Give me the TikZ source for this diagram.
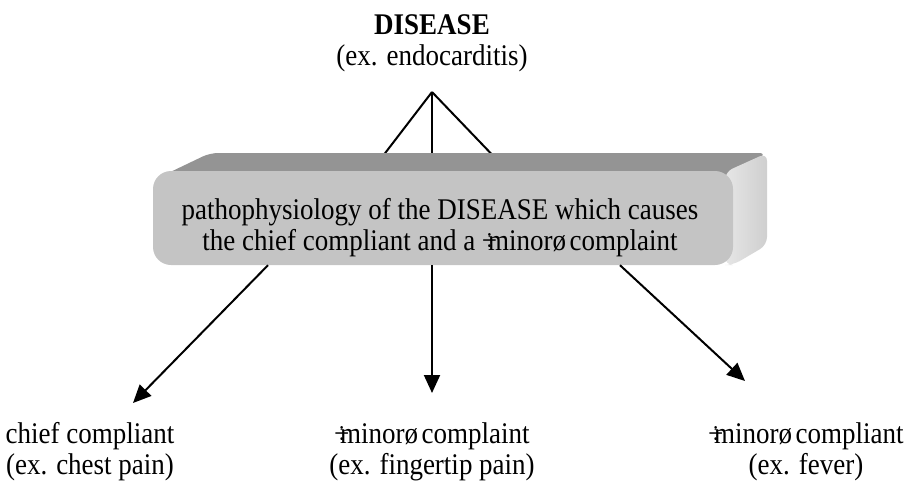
\documentclass[tikz,border=0pt]{standalone}
\usepackage{fontspec}
\setmainfont{Liberation Serif}[FakeStretch=0.9]
\usetikzlibrary{arrows.meta, positioning}
\definecolor{frontgrey}{HTML}{C4C4C4}
\definecolor{topgrey}{HTML}{949494}
\definecolor{sidelight}{HTML}{E6E6E6}
\definecolor{sidedark}{HTML}{CFCFCF}
\tikzset{
	caption/.style={align=center, font=\fontsize{30}{31}\selectfont},
	front/.style={fill=frontgrey, rounded corners=18pt, minimum width=580pt, minimum height=94pt},
	link/.style={line width=2pt},
	arrow/.style={line width=2pt, -{Triangle[length=18pt,width=16pt]}}
}
\newcommand{\minorq}{÷\kern-.3em minorø\kern.12em}

\begin{document}
\begin{tikzpicture}[x=1pt, y=-1pt]
	\useasboundingbox (0,0) rectangle (915,487);
	
	\node[caption] (disease) at (432,43) {\textbf{DISEASE}\\(ex. endocarditis)};
	\coordinate (apex) at (432,92);
	\coordinate (backL) at (376,165);
	\coordinate (backM) at (432,165);
	\coordinate (backR) at (502,165);
	\draw[link] (apex) -- (backL);
	\draw[link] (apex) -- (backM);
	\draw[link] (apex) -- (backR);
	
	% bevelled box
	\fill[topgrey, rounded corners=8pt] (162,176) -- (210,153) -- (767,153) -- (733,176) -- cycle;
	\shade[left color=sidelight, right color=sidedark, rounded corners=8pt]
		(725,172) -- (767,153) -- (767,245) -- (733,265) -- (725,265) -- cycle;
	\node[front] (patho) at (443,218) {};
	\node[caption] at (440,228) {pathophysiology of the DISEASE which causes\\the chief compliant and a \minorq complaint};
	
	\node[caption] (chief) at (90,452) {chief compliant\\(ex. chest pain)};
	\node[caption] (minor) at (432,452) {\minorq complaint\\(ex. fingertip pain)};
	\node[caption] (fever) at (806,452) {\minorq compliant\\(ex. fever)};
	
	\coordinate (tipL) at (133,403);
	\coordinate (tipM) at (432,393);
	\coordinate (tipR) at (745,381);
	\draw[arrow] (268,0 |- patho.south) -- (tipL);
	\draw[arrow] (apex |- patho.south) -- (tipM);
	\draw[arrow] (620,0 |- patho.south) -- (tipR);
\end{tikzpicture}
\end{document}
